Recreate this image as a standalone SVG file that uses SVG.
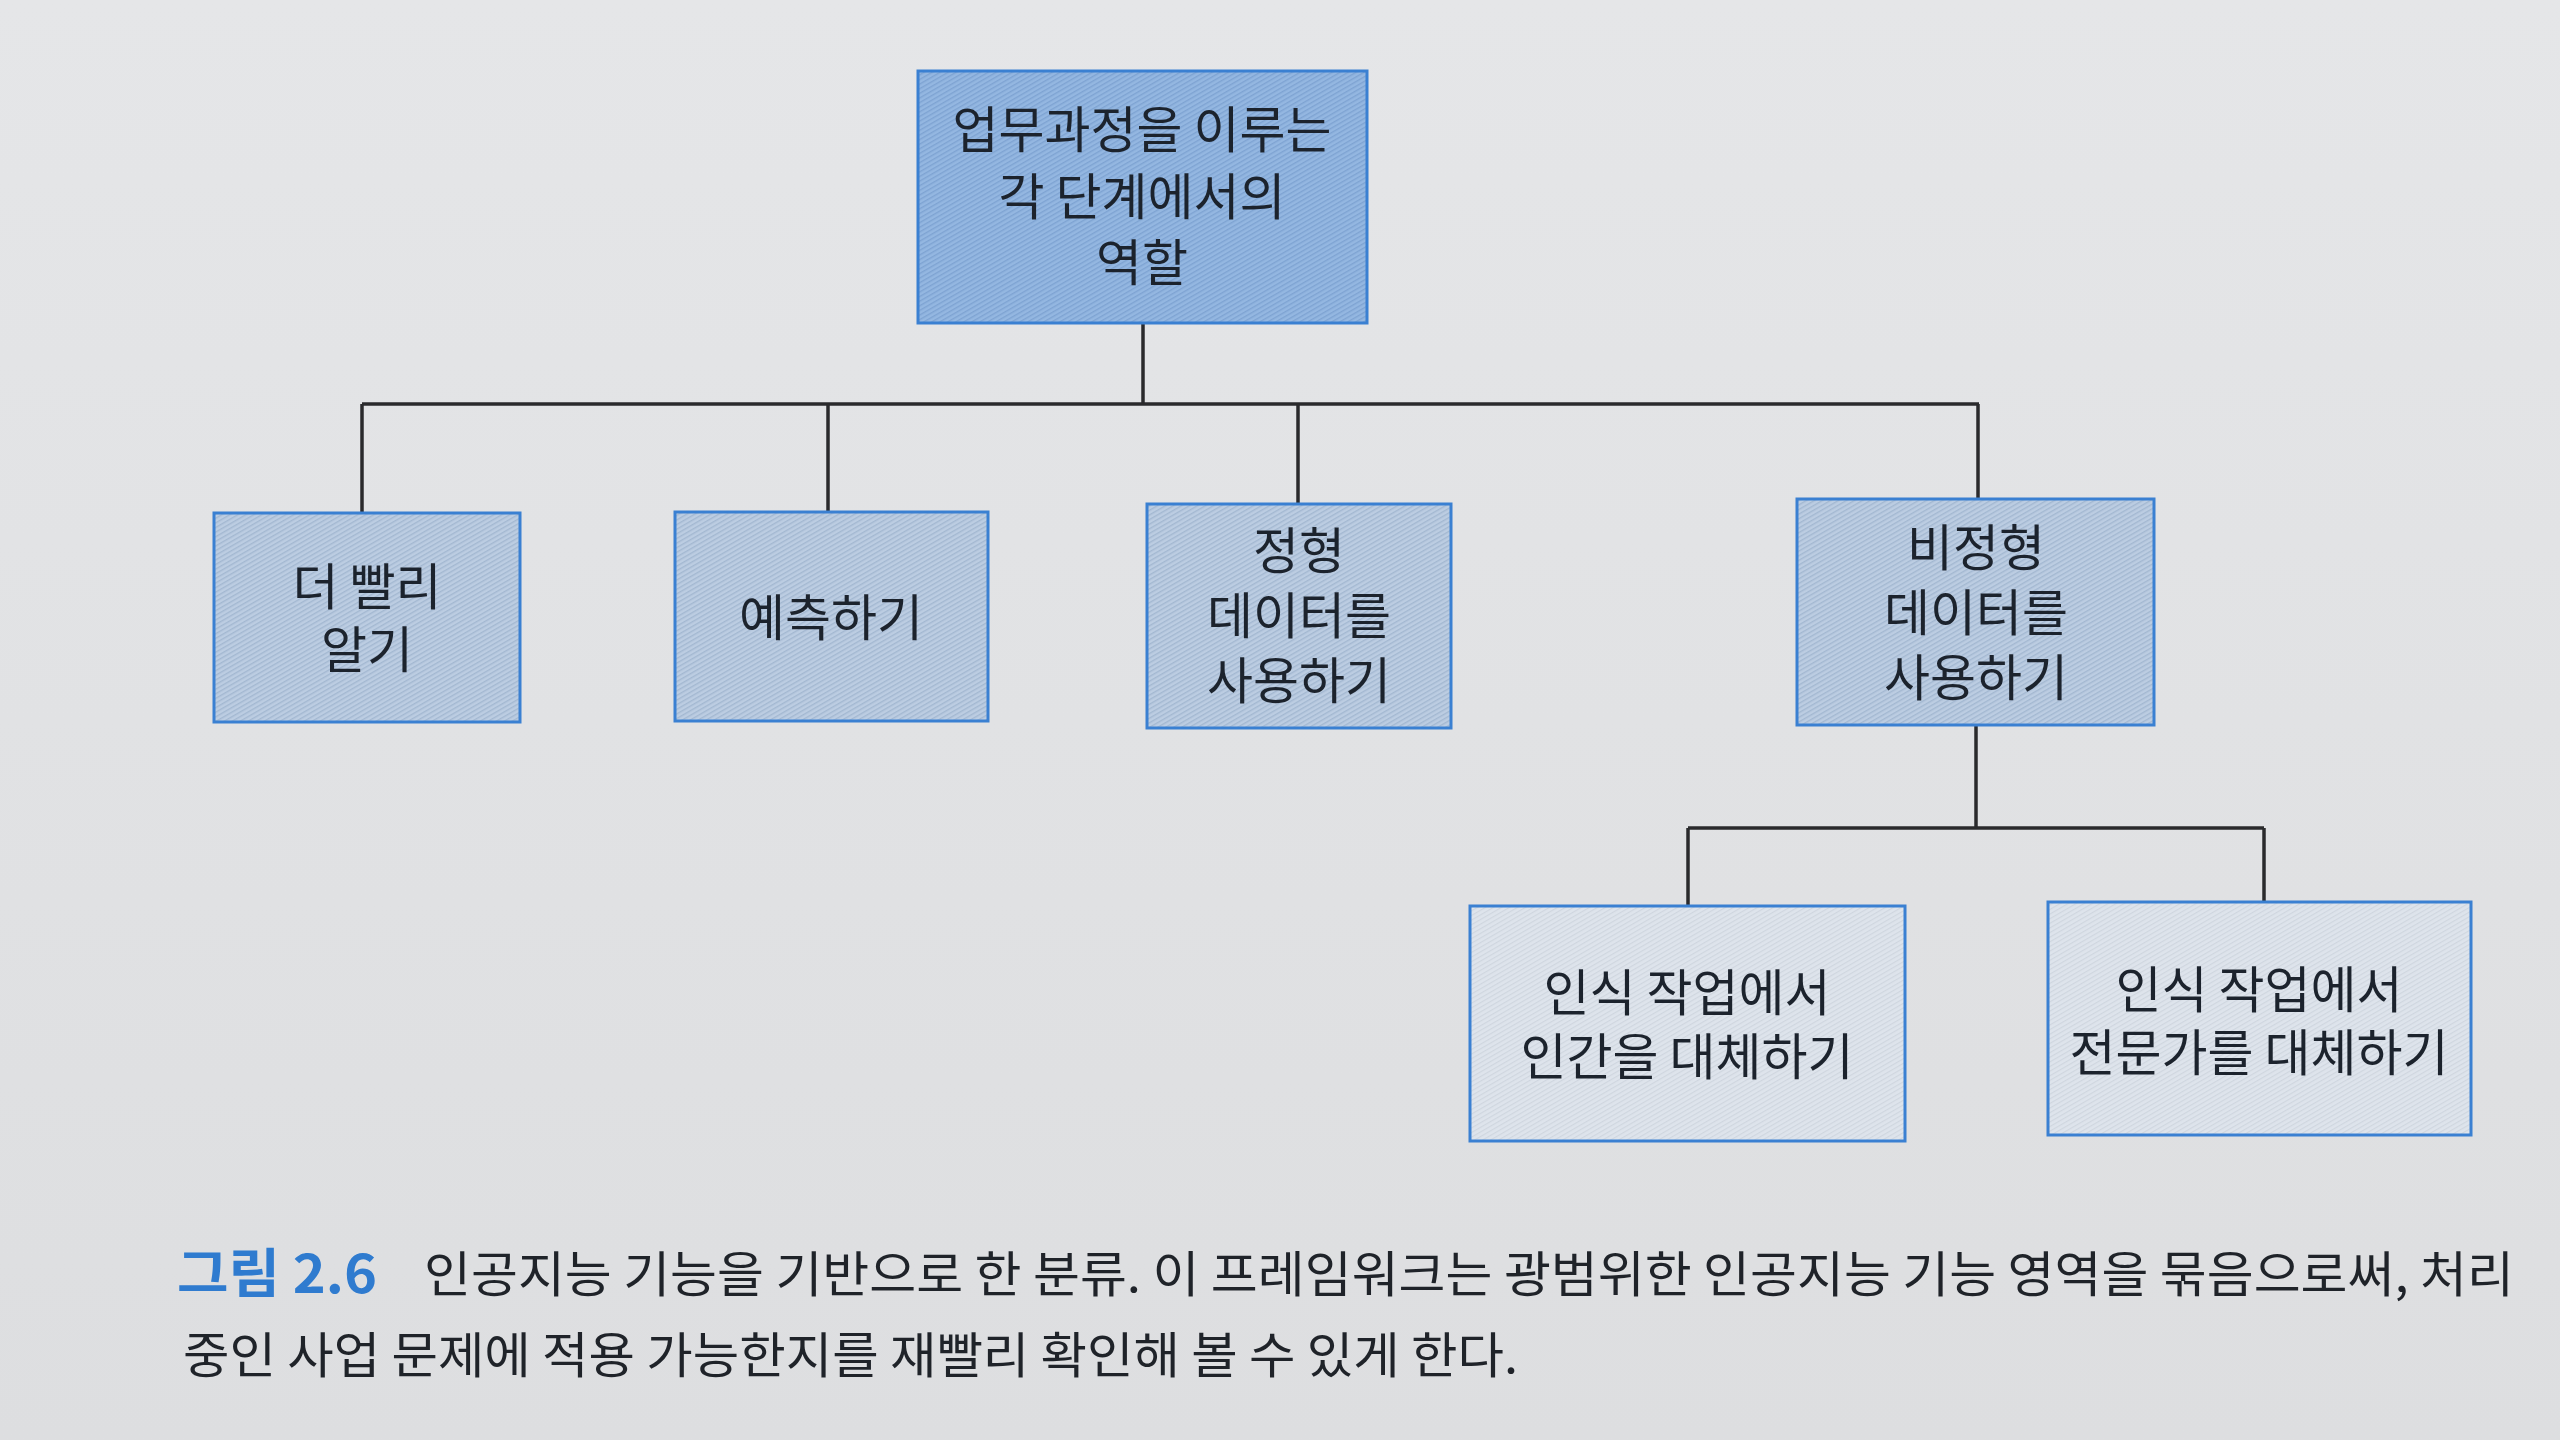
<svg xmlns="http://www.w3.org/2000/svg" width="2560" height="1440" viewBox="0 0 2560 1440">
  <defs>
    <linearGradient id="bg" x1="0" y1="0" x2="0" y2="1">
      <stop offset="0" stop-color="#e5e6e8"/>
      <stop offset="1" stop-color="#dddee0"/>
    </linearGradient>
    <pattern id="hatchDark" width="4" height="4" patternUnits="userSpaceOnUse" patternTransform="rotate(60)">
      <rect width="4" height="4" fill="#94b7e1"/>
      <rect width="1.4" height="4" fill="#7ea3d2"/>
    </pattern>
    <pattern id="hatchMid" width="4" height="4" patternUnits="userSpaceOnUse" patternTransform="rotate(60)">
      <rect width="4" height="4" fill="#bccde2"/>
      <rect width="1.4" height="4" fill="#a3b8d1"/>
    </pattern>
    <pattern id="hatchLight" width="4" height="4" patternUnits="userSpaceOnUse" patternTransform="rotate(60)">
      <rect width="4" height="4" fill="#dee4ec"/>
      <rect width="1.2" height="4" fill="#cfd6df"/>
    </pattern>
  </defs>
  <style>
    .box { stroke: #3a80d2; stroke-width: 3; }
    .root { fill: url(#hatchDark); }
    .mid { fill: url(#hatchMid); }
    .leaf { fill: url(#hatchLight); }
    .lbl { font-family: "Noto Sans CJK KR", "Noto Sans", sans-serif; font-size: 50px; fill: #1c232d; text-anchor: middle; dominant-baseline: central; }
    .cap { font-family: "Noto Sans CJK KR", "Noto Sans", sans-serif; font-size: 49px; fill: #1f2329; dominant-baseline: central; }
    .capnum { font-family: "Noto Sans CJK KR", "Noto Sans", sans-serif; font-size: 53px; font-weight: bold; fill: #2f7bcf; dominant-baseline: central; }
    .conn { stroke: #2a2a2c; stroke-width: 3.5; fill: none; }
  </style>
  <rect width="2560" height="1440" fill="url(#bg)"/>

  <g id="connectors">
    <line class="conn" x1="1143" y1="323" x2="1143" y2="404"/>
    <line class="conn" x1="362" y1="404" x2="1979" y2="404"/>
    <line class="conn" x1="362" y1="404" x2="362" y2="513"/>
    <line class="conn" x1="828" y1="404" x2="828" y2="512"/>
    <line class="conn" x1="1298" y1="404" x2="1298" y2="504"/>
    <line class="conn" x1="1978" y1="404" x2="1978" y2="499"/>
    <line class="conn" x1="1976" y1="725" x2="1976" y2="828"/>
    <line class="conn" x1="1688" y1="828" x2="2264" y2="828"/>
    <line class="conn" x1="1688" y1="828" x2="1688" y2="906"/>
    <line class="conn" x1="2264" y1="828" x2="2264" y2="902"/>
  </g>

  <g id="node-root">
    <rect class="box root" x="918" y="71" width="449" height="252"/>
    <text class="lbl" x="1142" y="126">업무과정을 이루는</text>
    <text class="lbl" x="1142" y="193">각 단계에서의</text>
    <text class="lbl" x="1142" y="259">역할</text>
  </g>

  <g id="node-faster">
    <rect class="box mid" x="214" y="513" width="306" height="209"/>
    <text class="lbl" x="367" y="583">더 빨리</text>
    <text class="lbl" x="367" y="646">알기</text>
  </g>

  <g id="node-predict">
    <rect class="box mid" x="675" y="512" width="313" height="209"/>
    <text class="lbl" x="831" y="614">예측하기</text>
  </g>

  <g id="node-structured">
    <rect class="box mid" x="1147" y="504" width="304" height="224"/>
    <text class="lbl" x="1299" y="547">정형</text>
    <text class="lbl" x="1299" y="612">데이터를</text>
    <text class="lbl" x="1299" y="677">사용하기</text>
  </g>

  <g id="node-unstructured">
    <rect class="box mid" x="1797" y="499" width="357" height="226"/>
    <text class="lbl" x="1976" y="544">비정형</text>
    <text class="lbl" x="1976" y="609">데이터를</text>
    <text class="lbl" x="1976" y="674">사용하기</text>
  </g>

  <g id="node-human">
    <rect class="box leaf" x="1470" y="906" width="435" height="235"/>
    <text class="lbl" x="1687" y="989">인식 작업에서</text>
    <text class="lbl" x="1687" y="1053">인간을 대체하기</text>
  </g>

  <g id="node-expert">
    <rect class="box leaf" x="2048" y="902" width="423" height="233"/>
    <text class="lbl" x="2259" y="986">인식 작업에서</text>
    <text class="lbl" x="2259" y="1049">전문가를 대체하기</text>
  </g>

  <g id="caption">
    <text class="capnum" x="177" y="1270" textLength="200" lengthAdjust="spacingAndGlyphs">그림 2.6</text>
    <text class="cap" x="424" y="1270" textLength="2090" lengthAdjust="spacingAndGlyphs">인공지능 기능을 기반으로 한 분류. 이 프레임워크는 광범위한 인공지능 기능 영역을 묶음으로써, 처리</text>
    <text class="cap" x="183" y="1351" textLength="1335" lengthAdjust="spacingAndGlyphs">중인 사업 문제에 적용 가능한지를 재빨리 확인해 볼 수 있게 한다.</text>
  </g>
</svg>
